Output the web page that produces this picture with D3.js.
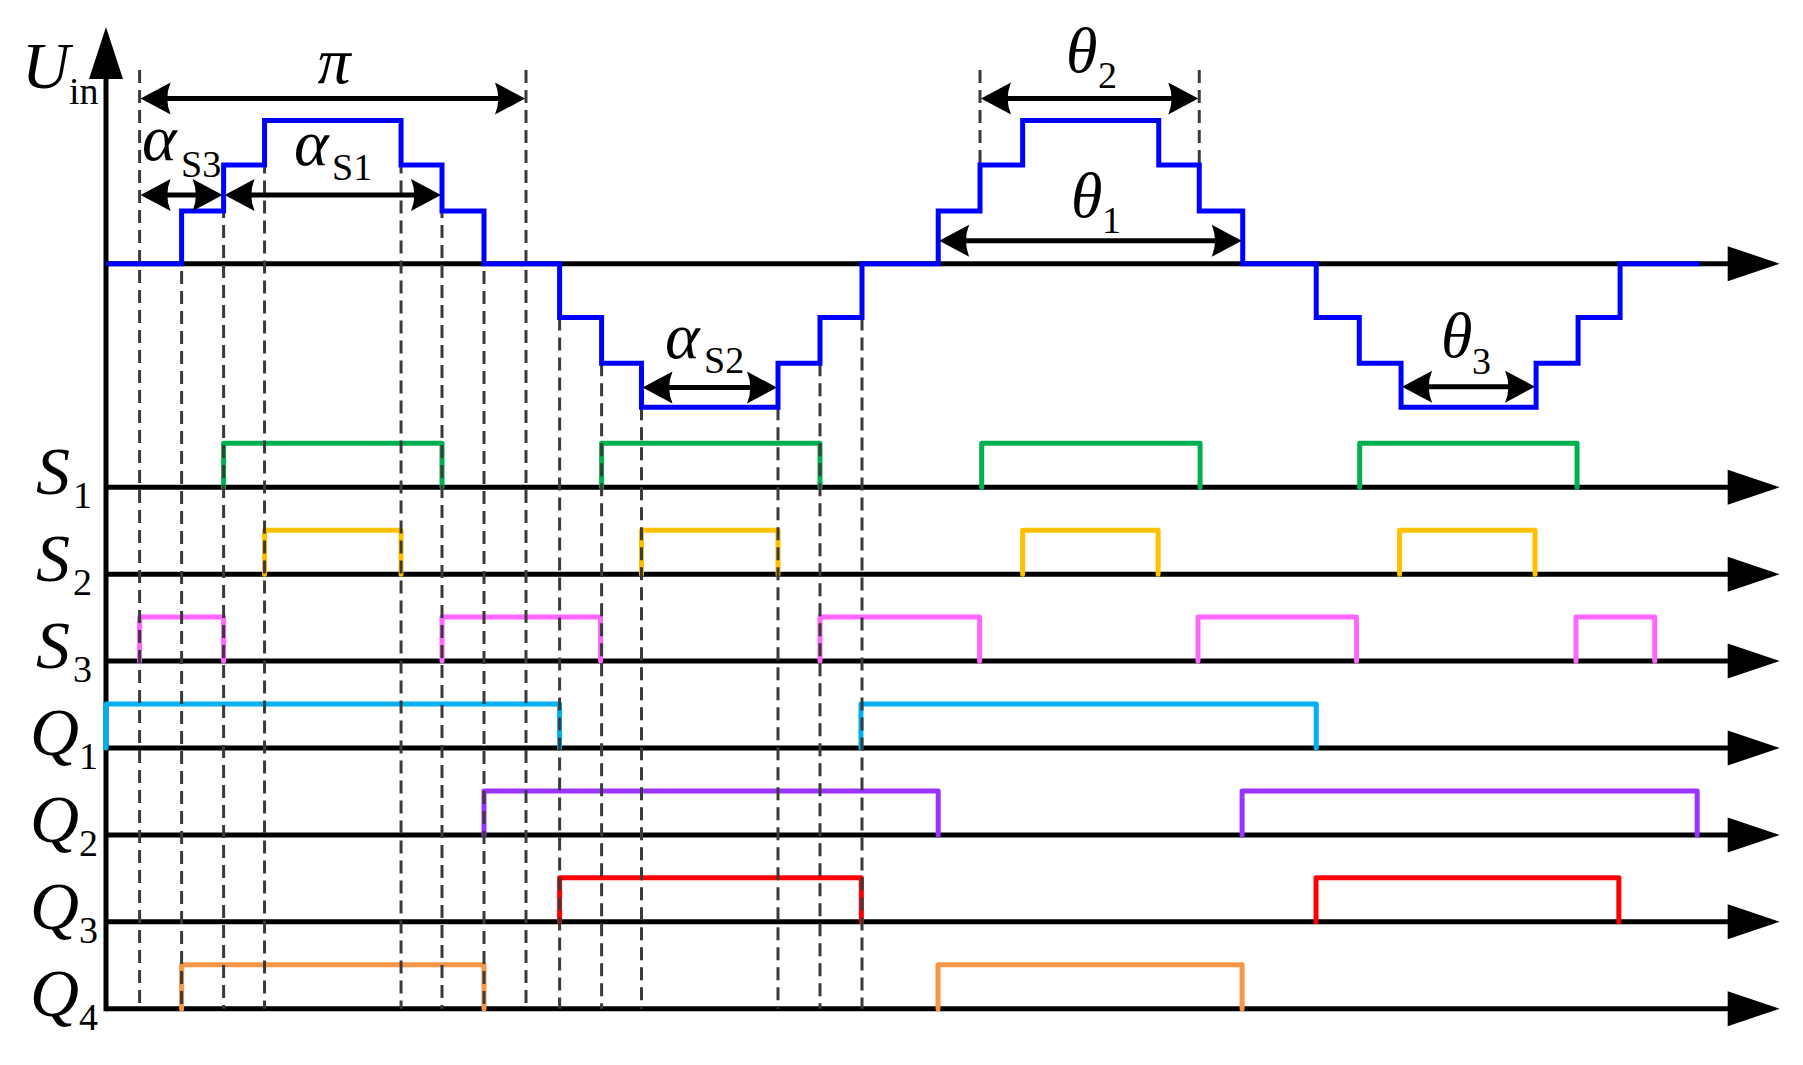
<!DOCTYPE html>
<html><head><meta charset="utf-8">
<script src="https://cdn.jsdelivr.net/npm/d3@7/dist/d3.min.js"></script>
<style>html,body{margin:0;padding:0;background:#fff}svg{display:block}
text{font-family:"Liberation Serif","Times New Roman","DejaVu Serif",serif}</style>
</head><body>
<svg id="chart" width="1803" height="1065"></svg>
<script>
// ---------------- DATA (time in electrical degrees) ----------------
const tEnd = 797;                      // end of the time axes
// Uin staircase: [time, voltage level (p.u.)]
const uinTimes  = [0, 36, 56, 75.5, 140.5, 160, 180, 216, 236, 255, 320, 340, 360,
                   396.3, 416.2, 436.5, 501.3, 520.6, 541.3, 576.3, 596.8, 616.7, 681, 701, 721, 759];
const uinLevels = [0, 1.15, 2.15, 3.12, 2.15, 1.15, 0, -1.17, -2.17, -3.13, -2.17, -1.17, 0,
                   1.15, 2.15, 3.12, 2.15, 1.15, 0, -1.17, -2.17, -3.13, -2.17, -1.17, 0, 0];
// switching signals: categories and on-intervals
const signalNames = ["S1", "S2", "S3", "Q1", "Q2", "Q3", "Q4"];
const signalColors = ["#00B050", "#FFC000", "#FF66FF", "#00B0F0", "#9933FF", "#FF0000", "#F79646"];
const pulsesS1 = [[56, 160], [236, 340], [417, 521], [597, 700.5]];
const pulsesS2 = [[75.5, 140.5], [255, 320], [436.5, 501], [616, 680.5]];
const pulsesS3 = [[16, 56], [160, 235.5], [340, 416], [520, 595.5], [700, 737.5]];
const pulsesQ1 = [[0, 216], [359.5, 576.3]];
const pulsesQ2 = [[180, 396.3], [541, 757.7]];
const pulsesQ3 = [[216, 359.7], [576.2, 720.4]];
const pulsesQ4 = [[36, 180], [396.2, 541]];
// vertical dashed guide lines
const guideTimes = [16, 36, 56, 75.5, 140.5, 160, 180, 200, 216, 236, 255, 320, 340, 360];
const piEnds = [16, 200];
const theta2Ends = [416.2, 520.6];
// dimension annotations
const dimNames = ["π", "αS3", "αS1", "αS2", "θ2", "θ1", "θ3"];
const dimFrom  = [16, 16, 56, 255, 416.2, 396.3, 616.7];
const dimTo    = [200, 56, 160, 320, 520.6, 541.3, 681];
const dimLevel = [3.6, 1.5, 1.5, -2.7, 3.6, 0.5, -2.68];

// ---------------- SCALES ----------------
const svg = d3.select("#chart");
const x = d3.scaleLinear().domain([0, tEnd]).range([106, 1779.7]);
const yU = d3.scaleLinear().domain([-3.13, 3.12]).range([407.3, 120.6]);
const row = d3.scalePoint().domain(signalNames).range([487.3, 1008.7]);
const pulseH = d3.scaleLinear().domain([0, 1]).range([0, 44]);
const xAxisEnd = x(tEnd);

// ---------------- AXES ----------------
const axisG = svg.append("g");
const axisRows = [yU(0)].concat(signalNames.map(s => row(s)));
axisRows.forEach(yy => {
  axisG.append("line").attr("x1", x(0)).attr("x2", xAxisEnd - 48).attr("y1", yy).attr("y2", yy)
    .attr("stroke", "#000").attr("stroke-width", 5);
  axisG.append("path")
    .attr("d", `M${xAxisEnd},${yy} L${xAxisEnd - 52},${yy - 17.5} L${xAxisEnd - 52},${yy + 17.5} Z`)
    .attr("fill", "#000");
});
const yBottom = row("Q4") + 2.5;
axisG.append("line").attr("x1", x(0)).attr("x2", x(0)).attr("y1", yBottom).attr("y2", 75)
  .attr("stroke", "#000").attr("stroke-width", 5);
axisG.append("path").attr("d", `M${x(0)},27 L${x(0) - 17},79 L${x(0) + 17},79 Z`).attr("fill", "#000");

// ---------------- PULSES ----------------
const allPulses = [pulsesS1, pulsesS2, pulsesS3, pulsesQ1, pulsesQ2, pulsesQ3, pulsesQ4];
const pulseG = svg.append("g");
signalNames.forEach((s, i) => {
  const base = row(s), top = base - pulseH(1);
  allPulses[i].forEach(([a, b]) => {
    pulseG.append("path")
      .attr("d", `M${x(a)},${base} L${x(a)},${top} L${x(b)},${top} L${x(b)},${base}`)
      .attr("fill", "none").attr("stroke", signalColors[i]).attr("stroke-width", 5)
      .attr("stroke-linejoin", "round").attr("stroke-linecap", "round");
  });
});

// ---------------- DASHED GUIDES ----------------
const guideG = svg.append("g").attr("stroke", "#3a3a3a").attr("stroke-width", 3)
  .attr("stroke-dasharray", "13,7").attr("fill", "none");
function levelAt(t) {
  let best = 0;
  uinTimes.forEach((u, k) => {
    if (Math.abs(u - t) < 0.8) {
      const prev = k > 0 ? uinLevels[k - 1] : 0;
      best = Math.abs(prev) > Math.abs(uinLevels[k]) ? prev : uinLevels[k];
    }
  });
  return best;
}
guideTimes.forEach(t => {
  const yTop = piEnds.includes(t) ? 70 : yU(levelAt(t));
  guideG.append("line").attr("x1", x(t)).attr("x2", x(t)).attr("y1", yTop).attr("y2", row("Q4"));
});
theta2Ends.forEach(t => {
  guideG.append("line").attr("x1", x(t)).attr("x2", x(t)).attr("y1", 70).attr("y2", yU(2.15));
});

// ---------------- Uin STAIRCASE ----------------
const stair = d3.line().x(d => x(d[0])).y(d => yU(d[1])).curve(d3.curveStepAfter);
svg.append("path").datum(uinTimes.map((t, k) => [t, uinLevels[k]]))
  .attr("d", stair).attr("fill", "none").attr("stroke", "#0000FF").attr("stroke-width", 5)
  .attr("stroke-linejoin", "miter");

// ---------------- DIMENSION ARROWS ----------------
const dimG = svg.append("g");
function head(xt, yy, dir) {
  const L = 30 * dir, H = 16;
  return `M${xt},${yy} L${xt - L},${yy - H} Q${xt - L * 0.78},${yy} ${xt - L},${yy + H} Z`;
}
dimNames.forEach((n, i) => {
  const yy = yU(dimLevel[i]);
  const x0 = x(dimFrom[i]) + 1, x1 = x(dimTo[i]) - 1;
  dimG.append("line").attr("x1", x0 + 20).attr("x2", x1 - 20).attr("y1", yy).attr("y2", yy)
    .attr("stroke", "#000").attr("stroke-width", 5);
  dimG.append("path").attr("d", head(x0, yy, -1)).attr("fill", "#000");
  dimG.append("path").attr("d", head(x1, yy, 1)).attr("fill", "#000");
});

// ---------------- TEXT ----------------
const txt = svg.append("g").attr("fill", "#000");
function put(str, xx, yy, size, italic, anchor) {
  txt.append("text").attr("x", xx).attr("y", yy).attr("font-size", size)
    .style("font-style", italic ? "italic" : "normal").attr("text-anchor", anchor || "start").text(str);
}
put("U", 22, 88, 66, true);
put("in", 69, 104, 38, false);
put("π", 334, 83, 66, true, "middle");
put("α", 142, 160, 66, true); put("S3", 181, 177, 38, false);
put("α", 294, 165, 66, true); put("S1", 332, 180, 38, false);
put("α", 665, 358, 66, true); put("S2", 704, 373, 38, false);
put("θ", 1066, 72, 64, true); put("2", 1098, 88, 38, false);
put("θ", 1071, 217, 64, true); put("1", 1102, 233, 38, false);
put("θ", 1441, 357, 64, true); put("3", 1472, 374, 38, false);
signalNames.forEach(s => {
  const base = row(s);
  const isS = s[0] === "S";
  put(s[0], isS ? 36 : 30, base + 7, 68, true);
  put(s[1], isS ? 73 : 79, base + 21, 38, false);
});
</script>
</body></html>
